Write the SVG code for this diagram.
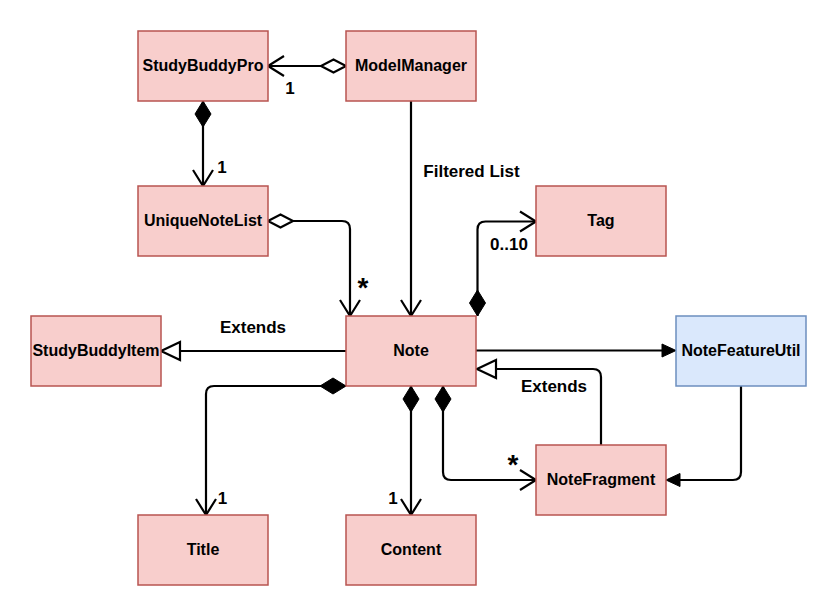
<svg xmlns="http://www.w3.org/2000/svg" width="838" height="616" viewBox="0 0 838 616">
  <style>
    .box { fill: #f8cecc; stroke: #b85450; stroke-width: 1.5; }
    .blue { fill: #dae8fc; stroke: #6c8ebf; stroke-width: 1.5; }
    .nt { font-family: "Liberation Sans", Arial, sans-serif; font-weight: bold; font-size: 16px; fill: #000; text-anchor: middle; }
    .lb { font-family: "Liberation Sans", Arial, sans-serif; font-weight: bold; font-size: 17px; fill: #000; }
    .ast { font-family: "Liberation Sans", Arial, sans-serif; font-weight: bold; font-size: 28px; fill: #000; }
    .edge { fill: none; stroke: #000; stroke-width: 2.2; }
  </style>
  <defs>
    <marker id="openArrow" markerUnits="userSpaceOnUse" orient="auto" markerWidth="40" markerHeight="40" viewBox="-20 -20 40 40" refX="0" refY="0" overflow="visible">
      <path d="M -16 -10 L 0 0 L -16 10" fill="none" stroke="#000" stroke-width="2.2"/>
    </marker>
    <marker id="openDiamond" markerUnits="userSpaceOnUse" orient="auto" markerWidth="40" markerHeight="40" viewBox="-5 -20 40 40" refX="0" refY="0" overflow="visible">
      <path d="M 0 0 L 12.5 -6.5 L 25 0 L 12.5 6.5 Z" fill="#fff" stroke="#000" stroke-width="2.2"/>
    </marker>
    <marker id="filledDiamond" markerUnits="userSpaceOnUse" orient="auto" markerWidth="40" markerHeight="40" viewBox="-5 -20 40 40" refX="0" refY="0" overflow="visible">
      <path d="M 0 0 L 13 -8 L 26 0 L 13 8 Z" fill="#000" stroke="#000" stroke-width="1"/>
    </marker>
    <marker id="hollowTri" markerUnits="userSpaceOnUse" orient="auto" markerWidth="40" markerHeight="40" viewBox="-5 -20 40 40" refX="0" refY="0" overflow="visible">
      <path d="M 19 0 L 0 -9 L 0 9 Z" fill="#fff" stroke="#000" stroke-width="2.2"/>
    </marker>
    <marker id="block" markerUnits="userSpaceOnUse" orient="auto" markerWidth="40" markerHeight="40" viewBox="-5 -20 40 40" refX="0" refY="0" overflow="visible">
      <path d="M 14 0 L 0 -6.5 L 0 6.5 Z" fill="#000" stroke="#000" stroke-width="1"/>
    </marker>
  </defs>
  <rect width="838" height="616" fill="#fff"/>

  <g id="connectors">
    <path class="edge" d="M 346 66 L 268 66" marker-start="url(#openDiamond)" marker-end="url(#openArrow)"/>
    <path class="edge" d="M 203 101 L 203 186" marker-start="url(#filledDiamond)" marker-end="url(#openArrow)"/>
    <path class="edge" d="M 268 221 L 342 221 Q 350 221 350 229 L 350 316" marker-start="url(#openDiamond)" marker-end="url(#openArrow)"/>
    <path class="edge" d="M 411 101 L 411 316" marker-end="url(#openArrow)"/>
    <path class="edge" d="M 477.5 316 L 477.5 229.5 Q 477.5 221.5 485.5 221.5 L 536 221.5" marker-start="url(#filledDiamond)" marker-end="url(#openArrow)"/>
    <path class="edge" d="M 346 351 L 180 351" marker-end="url(#hollowTri)"/>
    <path class="edge" d="M 476 350.5 L 662 350.5" marker-end="url(#block)"/>
    <path class="edge" d="M 601 445 L 601 377 Q 601 369 593 369 L 496 369" marker-end="url(#hollowTri)"/>
    <path class="edge" d="M 741 386 L 741 472 Q 741 480 733 480 L 680 480" marker-end="url(#block)"/>
    <path class="edge" d="M 346 386 L 214 386 Q 206 386 206 394 L 206 515" marker-start="url(#filledDiamond)" marker-end="url(#openArrow)"/>
    <path class="edge" d="M 411 386 L 411 515" marker-start="url(#filledDiamond)" marker-end="url(#openArrow)"/>
    <path class="edge" d="M 443 386 L 443 472 Q 443 480 451 480 L 536 480" marker-start="url(#filledDiamond)" marker-end="url(#openArrow)"/>

    <text class="lb" x="290" y="94" text-anchor="middle">1</text>
    <text class="lb" x="222" y="173" text-anchor="middle">1</text>
    <text class="ast" x="363" y="297" text-anchor="middle">*</text>
    <text class="lb" x="471.5" y="177" text-anchor="middle">Filtered List</text>
    <text class="lb" x="509" y="250" text-anchor="middle">0..10</text>
    <text class="lb" x="253" y="333" text-anchor="middle">Extends</text>
    <text class="lb" x="554" y="392" text-anchor="middle">Extends</text>
    <text class="ast" x="513" y="474" text-anchor="middle">*</text>
    <text class="lb" x="222.5" y="504" text-anchor="middle">1</text>
    <text class="lb" x="393" y="504" text-anchor="middle">1</text>
  </g>

  <g id="StudyBuddyPro"><rect class="box" x="138" y="31" width="130" height="70"/><text class="nt" x="203" y="70.5">StudyBuddyPro</text></g>
  <g id="ModelManager"><rect class="box" x="346" y="31" width="130" height="70"/><text class="nt" x="411" y="70.5">ModelManager</text></g>
  <g id="UniqueNoteList"><rect class="box" x="138" y="186" width="130" height="70"/><text class="nt" x="203" y="225.5">UniqueNoteList</text></g>
  <g id="Tag"><rect class="box" x="536" y="186" width="130" height="70"/><text class="nt" x="601" y="225.5">Tag</text></g>
  <g id="StudyBuddyItem"><rect class="box" x="31" y="316" width="130" height="70"/><text class="nt" x="96" y="355.5">StudyBuddyItem</text></g>
  <g id="Note"><rect class="box" x="346" y="316" width="130" height="70"/><text class="nt" x="411" y="355.5">Note</text></g>
  <g id="NoteFeatureUtil"><rect class="blue" x="676" y="316" width="130" height="70"/><text class="nt" x="741" y="355.5">NoteFeatureUtil</text></g>
  <g id="NoteFragment"><rect class="box" x="536" y="445" width="130" height="70"/><text class="nt" x="601" y="484.5">NoteFragment</text></g>
  <g id="Title"><rect class="box" x="138" y="515" width="130" height="70"/><text class="nt" x="203" y="554.5">Title</text></g>
  <g id="Content"><rect class="box" x="346" y="515" width="130" height="70"/><text class="nt" x="411" y="554.5">Content</text></g>
</svg>
